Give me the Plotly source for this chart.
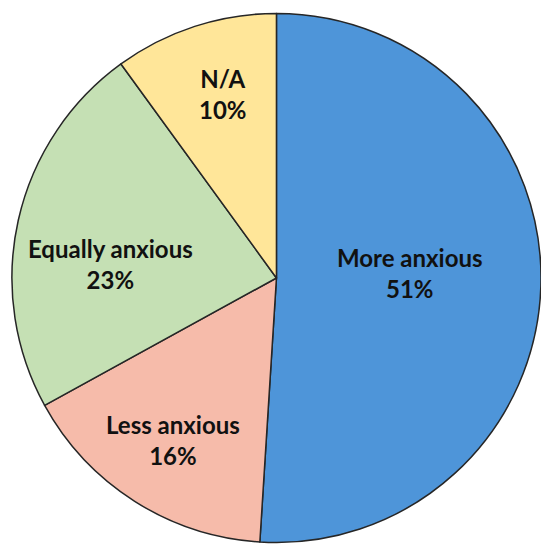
import plotly.graph_objects as go

labels = ["More anxious", "Less anxious", "Equally anxious", "N/A"]
values = [51, 16, 23, 10]
colors = ["#4E95D9", "#F6BBAA", "#C5E0B4", "#FFE699"]

# label placement (pixel centres of each two-line label)
label_pos_px = [(410, 273), (173, 440), (110, 264), (223, 94)]

W, H = 541, 544

fig = go.Figure(go.Pie(
    labels=labels,
    values=values,
    sort=False,
    direction="clockwise",
    rotation=0,
    marker=dict(colors=colors, line=dict(color="#262626", width=1.5)),
    textinfo="none",
    showlegend=False,
    hoverinfo="label+percent",
    domain=dict(x=[0.022, 1.0], y=[0.0, 0.978]),
))

total = sum(values)
for lab, val, (px, py) in zip(labels, values, label_pos_px):
    pct = round(100 * val / total)
    fig.add_annotation(
        x=px / W, y=1 - py / H, xref="paper", yref="paper",
        xanchor="center", yanchor="middle",
        text=f"{lab}<br>{pct}%",
        showarrow=False, align="center",
        font=dict(family="Lato", size=24, color="#111111", weight="bold"),
    )

fig.update_layout(
    width=W, height=H,
    margin=dict(l=0, r=0, t=0, b=0),
    paper_bgcolor="white",
    plot_bgcolor="white",
)

fig.write_html("out.html")
